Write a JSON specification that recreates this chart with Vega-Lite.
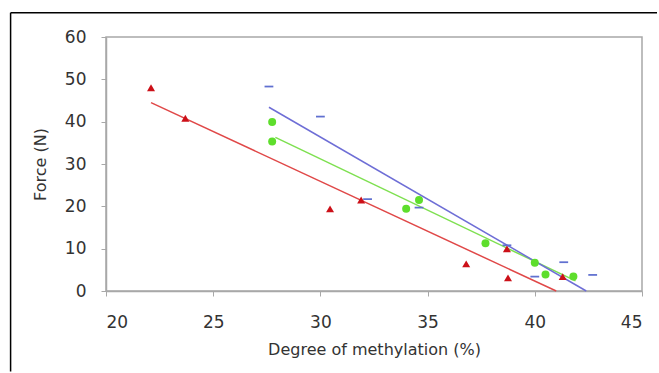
{
  "$schema": "https://vega.github.io/schema/vega-lite/v6.json",
  "autosize": {"type": "none"},
  "padding": {"left": 106, "top": 37, "right": 17, "bottom": 82},
  "width": 536,
  "height": 254,
  "background": "white",
  "config": {
    "font": "DejaVu Sans",
    "view": {"stroke": "#a8a8a8", "strokeWidth": 1.5},
    "axis": {
      "grid": false,
      "domainColor": "#a8a8a8",
      "domainWidth": 1.5,
      "tickColor": "#a8a8a8",
      "tickSize": 5,
      "labelColor": "#333333",
      "titleColor": "#333333",
      "labelFont": "DejaVu Sans",
      "titleFont": "DejaVu Sans",
      "labelFontSize": 17,
      "titleFontSize": 16,
      "titleFontWeight": "normal"
    },
    "legend": {
      "labelFont": "DejaVu Sans",
      "labelFontSize": 14,
      "labelColor": "#333333"
    }
  },
  "datasets": {
    "frame": [{"kind": "frame"}],
    "points": [
      {"series": "115°C", "x": 22.1, "y": 48.0},
      {"series": "115°C", "x": 23.7, "y": 40.8},
      {"series": "115°C", "x": 30.45, "y": 19.4},
      {"series": "115°C", "x": 31.9, "y": 21.5},
      {"series": "115°C", "x": 36.8, "y": 6.4},
      {"series": "115°C", "x": 38.75, "y": 3.1},
      {"series": "115°C", "x": 38.7, "y": 10.0},
      {"series": "115°C", "x": 41.3, "y": 3.4},
      {"series": "120°C", "x": 27.75, "y": 39.9},
      {"series": "120°C", "x": 27.75, "y": 35.3},
      {"series": "120°C", "x": 34.0, "y": 19.4},
      {"series": "120°C", "x": 34.6, "y": 21.5},
      {"series": "120°C", "x": 37.7, "y": 11.3},
      {"series": "120°C", "x": 40.0, "y": 6.7},
      {"series": "120°C", "x": 40.5, "y": 3.9},
      {"series": "120°C", "x": 41.8, "y": 3.4},
      {"series": "125°C", "x": 27.6, "y": 48.3},
      {"series": "125°C", "x": 30.0, "y": 41.2},
      {"series": "125°C", "x": 32.2, "y": 21.7},
      {"series": "125°C", "x": 34.6, "y": 19.7},
      {"series": "125°C", "x": 38.7, "y": 10.8},
      {"series": "125°C", "x": 40.0, "y": 3.4},
      {"series": "125°C", "x": 41.35, "y": 6.8},
      {"series": "125°C", "x": 42.7, "y": 3.8}
    ],
    "fits": [
      {"series": "115°C", "x": 22.1, "y": 44.5},
      {"series": "115°C", "x": 41.0, "y": 0.0},
      {"series": "120°C", "x": 27.9, "y": 36.3},
      {"series": "120°C", "x": 41.9, "y": 2.4},
      {"series": "125°C", "x": 27.6, "y": 43.4},
      {"series": "125°C", "x": 42.4, "y": 0.0}
    ]
  },
  "layer": [
    {
      "data": {"name": "frame"},
      "mark": {"type": "rule", "stroke": "#000000", "strokeWidth": 1.5, "clip": false},
      "encoding": {
        "x": {"datum": 15.55, "type": "quantitative", "scale": {"domain": [20, 45], "nice": false}},
        "x2": {"datum": 45.7},
        "y": {"datum": 65.7, "type": "quantitative", "scale": {"domain": [0, 60], "nice": false}}
      }
    },
    {
      "data": {"name": "frame"},
      "mark": {"type": "rule", "stroke": "#000000", "strokeWidth": 1.5, "clip": false},
      "encoding": {
        "x": {"datum": 15.55, "type": "quantitative"},
        "y": {"datum": 65.7, "type": "quantitative"},
        "y2": {"datum": -19.0}
      }
    },
    {
      "data": {"name": "fits"},
      "mark": {"type": "line", "strokeWidth": 1.5},
      "encoding": {
        "x": {"field": "x", "type": "quantitative", "scale": {"domain": [20, 45], "nice": false},
              "axis": {"values": [20, 25, 30, 35, 40, 45], "title": "Degree of methylation (%)", "labelPadding": 18, "titlePadding": 11}},
        "y": {"field": "y", "type": "quantitative", "scale": {"domain": [0, 60], "nice": false},
              "axis": {"values": [0, 10, 20, 30, 40, 50, 60], "title": "Force (N)", "labelPadding": 15, "titlePadding": 16}},
        "detail": {"field": "series"},
        "stroke": {"field": "series", "type": "nominal",
                  "scale": {"domain": ["115°C", "120°C", "125°C"], "range": ["#e04848", "#7ee050", "#6e6ed6"]},
                  "legend": null}
      }
    },
    {
      "data": {"name": "points"},
      "mark": {"type": "point", "filled": true, "opacity": 1, "size": 64},
      "encoding": {
        "x": {"field": "x", "type": "quantitative"},
        "y": {"field": "y", "type": "quantitative"},
        "color": {"field": "series", "type": "nominal",
                  "scale": {"domain": ["115°C", "120°C", "125°C"], "range": ["#cc1018", "#5ede2c", "#6070d0"]},
                  "legend": {"title": null, "orient": "top-right", "offset": 0, "padding": 10, "rowPadding": 13,
                             "strokeColor": "#cccccc", "fillColor": "white", "symbolSize": 64, "labelOffset": 6}},
        "shape": {"field": "series", "type": "nominal",
                  "scale": {"domain": ["115°C", "120°C", "125°C"], "range": ["triangle-up", "circle", "M-1.1,-0.22H1.1V0.22H-1.1Z"]}}
      }
    }
  ]
}
